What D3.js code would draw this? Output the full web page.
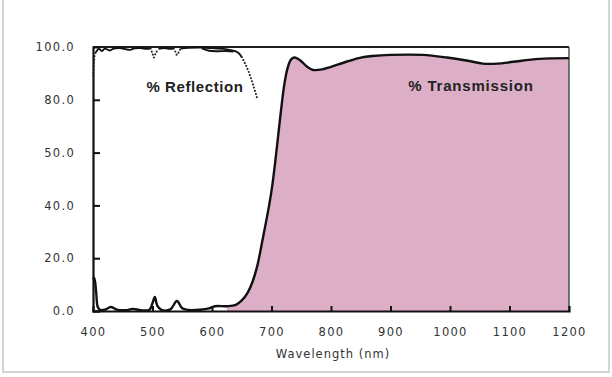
<!DOCTYPE html>
<html>
<head>
<meta charset="utf-8">
<script src="https://cdn.jsdelivr.net/npm/d3@7"></script>
<style>
  body { margin: 0; background: #fff; }
  svg { display: block; }
</style>
</head>
<body>
<svg id="chart" width="612" height="377"></svg>
<script>
// wavelength (nm), percent
const transmission = [
    [400, 12], [402, 12.5], [405, 8], [408, 1.5], [412, 0.4], [420, 0.5], [430, 1.5], [440, 0.5],
    [455, 0.3], [467, 0.8], [480, 0.3], [495, 0.5], [500, 3], [504, 5.3], [508, 2], [515, 0.4],
    [530, 0.6], [541, 3.8], [550, 1], [560, 0.4], [580, 0.5], [595, 1], [605, 1.8], [625, 1.8],
    [640, 2.3], [650, 4], [660, 7], [668, 11], [676, 17], [685, 27], [696, 40], [701, 47],
    [706, 56], [711, 66], [716, 76], [721, 85], [727, 92], [733, 95.3], [739, 96], [748, 95],
    [760, 92.5], [770, 91.3], [785, 91.5], [800, 92.5], [827, 94.5], [850, 96], [870, 96.6],
    [900, 97], [954, 97], [995, 96], [1030, 94.8], [1055, 93.7], [1080, 93.7], [1106, 94.4],
    [1150, 95.5], [1200, 95.8]
];

const reflection = [
    [405, 98], [410, 99.3], [415, 98.5], [420, 99.4], [428, 98.7], [435, 99.4], [445, 99.6],
    [455, 99.2], [462, 98.9], [470, 99.5], [480, 99.6], [490, 99.3], [497, 99.5]
];
const reflection2 = [
    [510, 99.3], [520, 99.6], [530, 99.3], [536, 99.5]
];
const reflection3 = [
    [547, 99.4], [560, 99.7], [580, 99.8], [600, 99.6], [620, 99.3], [630, 98.9], [640, 98.3],
    [645, 97.6], [650, 96.2]
];
const reflectionShoulder = [
    [583, 99.5], [595, 98.6], [610, 98.4], [625, 98.5], [636, 98.3]
];
const reflectionDotted = [
    [[400.5, 89], [401, 92], [402, 95], [403.5, 97.5], [405, 98]],
    [[497, 99.5], [500, 97.5], [502, 96], [505, 97.5], [510, 99.3]],
    [[536, 99.5], [539, 98], [541, 97], [544, 98], [547, 99.4]],
    [[650, 96.2], [655, 94], [660, 91.5], [665, 88.5], [670, 85], [676, 80.5]]
];

const yTicks = [0, 20, 40, 60, 80, 100];
const yTickLabels = ["0.0", "20.0", "40.0", "50.0", "80.0", "100.0"];
const xTicks = [400, 500, 600, 700, 800, 900, 1000, 1100, 1200];

const svg = d3.select("#chart");

const x = d3.scaleLinear().domain([400, 1200]).range([93, 569]);
const y = d3.scaleLinear().domain([0, 100]).range([311, 47]);

// faint page frame
svg.append("path")
    .attr("d", "M3,0 V372 H609 V0")
    .attr("fill", "none")
    .attr("stroke", "#d4d4d4")
    .attr("stroke-width", 2);

// transmission fill
const area = d3.area()
    .x(d => x(d[0]))
    .y0(y(0))
    .y1(d => y(d[1]))
    .curve(d3.curveCatmullRom.alpha(0.5));

svg.append("path")
    .datum(transmission.filter(d => d[0] >= 615))
    .attr("d", area)
    .attr("fill", "#dcafc6");

// frame: top and right
svg.append("line")
    .attr("x1", x(400)).attr("x2", x(1200))
    .attr("y1", y(100)).attr("y2", y(100))
    .attr("stroke", "#1e1e1e").attr("stroke-width", 2);
svg.append("line")
    .attr("x1", x(1200)).attr("x2", x(1200))
    .attr("y1", y(100)).attr("y2", y(0))
    .attr("stroke", "#2b4034").attr("stroke-width", 1.3);

// axes
const yAxis = d3.axisLeft(y)
    .tickValues(yTicks)
    .tickFormat((d, i) => yTickLabels[i])
    .tickSize(-7)
    .tickPadding(16);

const xAxis = d3.axisBottom(x)
    .tickValues(xTicks)
    .tickFormat(d3.format("d"))
    .tickSize(-5)
    .tickPadding(17);

const gy = svg.append("g").attr("transform", `translate(${x(400)},0)`).call(yAxis);
const gx = svg.append("g").attr("transform", `translate(0,${y(0)})`).call(xAxis);

[gy, gx].forEach(g => {
    g.select(".domain").attr("stroke", "#111").attr("stroke-width", 2.2);
    g.selectAll(".tick line").attr("stroke", "#111").attr("stroke-width", 2);
    g.selectAll(".tick text")
        .attr("fill", "#333")
        .style("font-family", "DejaVu Sans, sans-serif")
        .style("font-size", "11.5px")
        .style("letter-spacing", "1.3px");
});
gy.selectAll(".tick text").attr("dx", "-2px");
gx.selectAll(".tick").filter(d => d === 100 || d === 400 || d === 1200).select("line").remove();
gy.selectAll(".tick").filter(d => d === 100).select("line").remove();

svg.append("text")
    .attr("x", x(800) + 2)
    .attr("y", 358)
    .attr("text-anchor", "middle")
    .attr("fill", "#333")
    .style("font-family", "DejaVu Sans, sans-serif")
    .style("font-size", "11.5px")
    .style("letter-spacing", "1px")
    .text("Wavelength (nm)");

// curves
const line = d3.line()
    .x(d => x(d[0]))
    .y(d => y(d[1]))
    .curve(d3.curveCatmullRom.alpha(0.5));

svg.append("path")
    .datum(transmission)
    .attr("d", line)
    .attr("fill", "none")
    .attr("stroke", "#111")
    .attr("stroke-width", 2.4)
    .attr("stroke-linejoin", "round");

[reflection, reflection2, reflection3, reflectionShoulder].forEach(seg => {
    svg.append("path")
        .datum(seg)
        .attr("d", line)
        .attr("fill", "none")
        .attr("stroke", "#111")
        .attr("stroke-width", 1.9);
});

reflectionDotted.forEach(seg => {
    svg.append("path")
        .datum(seg)
        .attr("d", line)
        .attr("fill", "none")
        .attr("stroke", "#222")
        .attr("stroke-width", 2)
        .attr("stroke-linecap", "round")
        .attr("stroke-dasharray", "0.1,3.2");
});

// labels
svg.append("text")
    .attr("x", 195)
    .attr("y", 92)
    .attr("text-anchor", "middle")
    .attr("fill", "#222")
    .style("font-family", "Liberation Sans, Arial, sans-serif")
    .style("font-weight", "bold")
    .style("font-size", "15px")
    .style("letter-spacing", "0.6px")
    .text("% Reflection");

svg.append("text")
    .attr("x", 471)
    .attr("y", 91)
    .attr("text-anchor", "middle")
    .attr("fill", "#222")
    .style("font-family", "Liberation Sans, Arial, sans-serif")
    .style("font-weight", "bold")
    .style("font-size", "15px")
    .style("letter-spacing", "0.8px")
    .text("% Transmission");
</script>
</body>
</html>
